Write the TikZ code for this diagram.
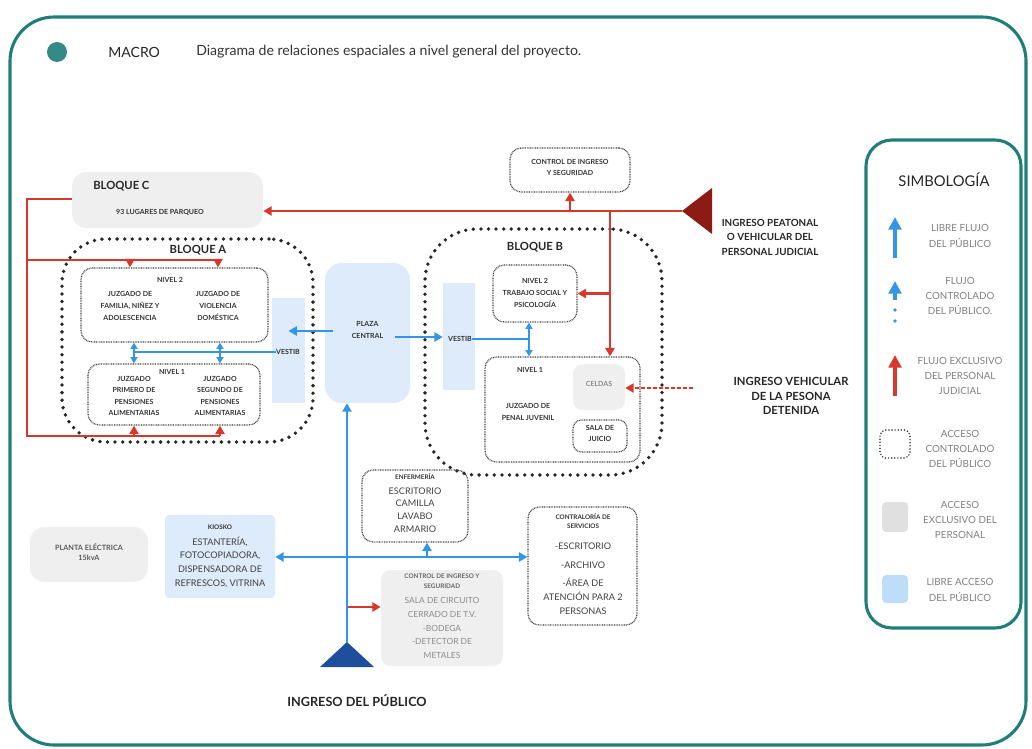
\documentclass[tikz,border=0pt]{standalone}
\usepackage{fontspec}
\setmainfont{Lato}
\usepackage{tikz}
\usetikzlibrary{arrows.meta,positioning,fit,calc}

\definecolor{marco}{HTML}{1F7D7A}
\definecolor{rojojud}{HTML}{D6382C}
\definecolor{rojoosc}{HTML}{8C1B16}
\definecolor{azulpub}{HTML}{3494E6}
\definecolor{azulosc}{HTML}{1D4F9C}
\definecolor{celeste}{HTML}{DDEBFA}
\definecolor{celestefuerte}{HTML}{BEDDF8}
\definecolor{grisper}{HTML}{EFEFEF}

\begin{document}
\begin{tikzpicture}[x=0.025cm, y=-0.025cm,
  marcobox/.style={draw=marco, line width=2.2pt, rounded corners=1.1cm, inner sep=0pt},
  bloque/.style={draw=black!85, line width=2.7pt, line cap=round, dash pattern=on 0pt off 5.4pt, rounded corners=1.1cm, inner sep=0pt},
  nivel/.style={draw=black!75, line width=0.9pt, dash pattern=on 0.6pt off 0.6pt, rounded corners=8pt, inner sep=0pt},
  personal/.style={fill=grisper, rounded corners=7pt, inner sep=0pt},
  publico/.style={fill=celeste, inner sep=0pt},
  lbl/.style={font=\bfseries\fontsize{8}{10}\selectfont, text=black!85, align=center, inner sep=0pt},
  ingreso/.style={font=\bfseries\fontsize{7}{10.3}\selectfont, text=black!85, align=center, inner sep=0pt},
  chico/.style={font=\bfseries\fontsize{5}{8.5}\selectfont, text=black!80, align=center, inner sep=0pt},
  item/.style={font=\fontsize{6.5}{9.5}\selectfont, text=black!75, align=center, inner sep=0pt},
  leyenda/.style={font=\fontsize{7}{11}\selectfont, text=black!50, align=center, inner sep=0pt},
  flujojud/.style={draw=rojojud, line width=1.7pt, line join=miter},
  flechajud/.style={flujojud, -{Triangle[length=6pt,width=6.5pt]}},
  flujopub/.style={draw=azulpub, line width=1.7pt, line join=miter},
  flechapub/.style={flujopub, -{Triangle[length=6pt,width=6.5pt]}},
  doblepub/.style={flujopub, {Triangle[length=4.5pt,width=5pt]}-{Triangle[length=4.5pt,width=5pt]}}
]
\useasboundingbox (0,0) rectangle (1032,749);

\node[marcobox, fit={(10,17) (1026,745)}] (marco) {};
\node[circle, fill=marco!90, minimum size=0.5cm, inner sep=0pt] (punto) at (57,52) {};
\node[anchor=west, inner sep=0pt, font=\fontsize{10}{12}\selectfont, text=black!85] (macro) at (108,52) {MACRO};
\node[anchor=west, inner sep=0pt, font=\fontsize{10}{12}\selectfont, text=black!80] (desc) at (196,52) {Diagrama de relaciones espaciales a nivel general del proyecto.};

% bloque C
\node[personal, rounded corners=10pt, fit={(72,172) (263,228)}] (bloqueC) {};
\node[lbl, anchor=west] (tBloqueC) at (93,186) {BLOQUE C};
\node[chico] (parqueo) at (160,212) {93 LUGARES DE PARQUEO};

% bloque A
\node[bloque, fit={(62,239) (313,442)}] (bloqueA) {};
\node[lbl] (tBloqueA) at (198,250) {BLOQUE A};
\node[nivel, fit={(81,268) (268,342)}] (nivDosA) {};
\node[chico] (tNivDosA) at (170,280) {NIVEL 2};
\node[chico] (juzFam) at (130,306) {JUZGADO DE\\FAMILIA, NIÑEZ Y\\ADOLESCENCIA};
\node[chico] (juzVio) at (218,306) {JUZGADO DE\\VIOLENCIA\\DOMÉSTICA};
\node[nivel, fit={(88,364) (260,425)}] (nivUnoA) {};
\node[chico] (tNivUnoA) at (172,372) {NIVEL 1};
\node[chico, font=\bfseries\fontsize{5}{8}\selectfont] (juzPri) at (134,396) {JUZGADO\\PRIMERO DE\\PENSIONES\\ALIMENTARIAS};
\node[chico, font=\bfseries\fontsize{5}{8}\selectfont] (juzSeg) at (220,396) {JUZGADO\\SEGUNDO DE\\PENSIONES\\ALIMENTARIAS};
\node[publico, fit={(272,298) (305,403)}] (vestibA) {};
\node[chico] (tVestibA) at (288,352) {VESTIB};

% plaza
\node[publico, rounded corners=12pt, chico, fit={(325,263) (410,403)}] (plaza) {PLAZA\\CENTRAL};

% bloque B
\node[bloque, rounded corners=1.3cm, fit={(425,229) (662,475)}] (bloqueB) {};
\node[lbl] (tBloqueB) at (535,247) {BLOQUE B};
\node[publico, fit={(443,283) (475,390)}] (vestibB) {};
\node[chico] (tVestibB) at (460,339) {VESTIB};
\node[nivel, fit={(493,265) (577,322)}] (nivDosB) {};
\node[chico, font=\bfseries\fontsize{5}{8.3}\selectfont] (trabajo) at (535,293) {NIVEL 2\\TRABAJO SOCIAL Y\\PSICOLOGÍA};
\node[nivel, fit={(485,357) (640,462)}] (nivUnoB) {};
\node[chico] (tNivUnoB) at (530,370) {NIVEL 1};
\node[chico] (juzPen) at (528,412) {JUZGADO DE\\PENAL JUVENIL};
\node[personal, fit={(573,364) (625,410)}] (celdas) {};
\node[chico, text=black!45] (tCeldas) at (599,384) {CELDAS};
\node[nivel, rounded corners=6pt, chico, fit={(573,420) (627,452)}] (sala) {SALA DE\\JUICIO};

% control superior
\node[nivel, chico, font=\bfseries\fontsize{5}{7.5}\selectfont, fit={(510,148) (630,192)}] (ctrlTop) {CONTROL DE INGRESO\\Y SEGURIDAD};
\coordinate (pj) at (682,211);
\fill[rojoosc] (pj) -- (712,188) -- (712,234) -- cycle;
\node[ingreso] (tPeatonal) at (770,237) {INGRESO PEATONAL\\O VEHICULAR DEL\\PERSONAL JUDICIAL};
\node[ingreso, font=\bfseries\fontsize{8}{10.3}\selectfont] (tDetenida) at (791,396) {INGRESO VEHICULAR\\DE LA PESONA\\DETENIDA};

% zona inferior
\node[personal, rounded corners=10pt, fit={(30,527) (148,582)}] (planta) {};
\node[chico, text=black!65, font=\bfseries\fontsize{5.2}{7.5}\selectfont] (tPlanta) at (89,552) {PLANTA ELÉCTRICA\\15kvA};
\node[publico, rounded corners=3pt, fit={(165,515) (275,598)}] (kiosko) {};
\node[chico, font=\bfseries\fontsize{4.5}{7}\selectfont] (tKiosko) at (220,527) {KIOSKO};
\node[item, font=\fontsize{6.5}{9.7}\selectfont] (kioskoItems) at (220,562) {ESTANTERÍA,\\FOTOCOPIADORA,\\DISPENSADORA DE\\REFRESCOS, VITRINA};
\node[nivel, fit={(362,470) (468,542)}] (enf) {};
\node[chico, font=\bfseries\fontsize{4.5}{7}\selectfont] (tEnf) at (415,477) {ENFERMERÍA};
\node[item, font=\fontsize{6.5}{9}\selectfont] (enfItems) at (415,510) {ESCRITORIO\\CAMILLA\\LAVABO\\ARMARIO};
\node[personal, fit={(381,570) (503,666)}] (ctrlBot) {};
\node[chico, text=black!60, font=\bfseries\fontsize{4.5}{7}\selectfont] (tCtrlBot) at (442,581) {CONTROL DE INGRESO Y\\SEGURIDAD};
\node[item, text=black!45, font=\fontsize{6}{9.8}\selectfont] (ctrlItems) at (442,628) {SALA DE CIRCUITO\\CERRADO DE T.V.\\-BODEGA\\-DETECTOR DE\\METALES};
\node[nivel, fit={(528,507) (637,625)}] (contra) {};
\node[chico, font=\bfseries\fontsize{4.5}{7}\selectfont] (tContra) at (583,521) {CONTRALORÍA DE\\SERVICIOS};
\node[item, font=\fontsize{6.5}{10}\selectfont] (contraItems) at (583,579) {-ESCRITORIO\\[3pt]-ARCHIVO\\[3pt]-ÁREA DE\\ATENCIÓN PARA 2\\PERSONAS};
\coordinate (pub) at (347,642);
\fill[azulosc] (pub) -- (374,667) -- (320,667) -- cycle;
\node[ingreso, font=\bfseries\fontsize{9}{11}\selectfont] (tPublico) at (357,701) {INGRESO DEL PÚBLICO};

% flujo judicial
\coordinate (rojoC) at (27,199);
\coordinate (rojoArr) at (27,260);
\coordinate (rojoAba) at (27,436);
\draw[flujojud] (bloqueC.west |- rojoC) -- (rojoC) -- (rojoAba) -- (juzSeg |- rojoAba);
\draw[flujojud] (rojoArr) -- (juzVio |- rojoArr);
\draw[flechajud] (juzFam |- rojoArr) -- (juzFam |- nivDosA.north);
\draw[flechajud] (juzVio |- rojoArr) -- (juzVio |- nivDosA.north);
\draw[flechajud] (juzPri |- rojoAba) -- (juzPri |- nivUnoA.south);
\draw[flechajud] (juzSeg |- rojoAba) -- (juzSeg |- nivUnoA.south);
\draw[flechajud] (pj) -- (pj -| bloqueC.east);
\draw[flechajud] (ctrlTop.south |- pj) -- (ctrlTop.south);
\coordinate (rojoB) at (610,211);
\draw[flechajud] (rojoB) -- (rojoB |- nivUnoB.north);
\draw[flechajud] (rojoB |- nivDosB.east) -- (nivDosB.east);
\coordinate (detenida) at (693,388);
\draw[flechajud, line width=1.4pt, dash pattern=on 2.5pt off 1.8pt] (detenida) -- (celdas.east |- detenida);
\coordinate (rojoCtrl) at (347,607);
\draw[flechajud] (rojoCtrl) -- (ctrlBot.west |- rojoCtrl);

% flujo publico
\draw[flujopub] (tVestibA.west) -- (juzPri |- tVestibA.west);
\draw[doblepub] (juzPri |- nivDosA.south) -- (juzPri |- nivUnoA.north);
\draw[doblepub] (juzSeg |- nivDosA.south) -- (juzSeg |- nivUnoA.north);
\coordinate (plazaIzq) at (333,331);
\coordinate (plazaDer) at (395,337);
\draw[flechapub] (plazaIzq) -- (vestibA.center |- plazaIzq);
\draw[flechapub] (plazaDer) -- (vestibB.west |- plazaDer);
\coordinate (azulB) at (529,339);
\draw[flujopub] (tVestibB.east) -- (azulB);
\draw[doblepub] (azulB |- nivDosB.south) -- (azulB |- nivUnoB.north);
\draw[flechapub] (pub) -- (pub |- plaza.south);
\coordinate (azulH) at (347,557);
\draw[flechapub] (azulH) -- (kiosko.east |- azulH);
\draw[flechapub] (azulH) -- (contra.west |- azulH);
\coordinate (azulE) at (427,557);
\draw[flechapub] (azulE) -- (azulE |- enf.south);

% simbologia
\node[marcobox, rounded corners=0.65cm, fit={(866,140) (1021,628)}] (simb) {};
\node[inner sep=0pt, font=\fontsize{10.5}{12}\selectfont, text=black!85] (tSimb) at (944,180) {SIMBOLOGÍA};
\draw[azulpub, line width=2.3pt, -{Triangle[length=9pt,width=9pt]}] (895,258) -- (895,217);
\node[leyenda] (leyUno) at (960,236) {LIBRE FLUJO\\DEL PÚBLICO};
\draw[azulpub, line width=2.3pt, -{Triangle[length=9pt,width=9pt]}] (895,300) -- (895,281);
\fill[azulpub] (895,310) circle (1.3pt) (895,321) circle (1.3pt);
\node[leyenda] (leyDos) at (960,296) {FLUJO\\CONTROLADO\\DEL PÚBLICO.};
\draw[rojojud, line width=2.3pt, -{Triangle[length=9pt,width=9pt]}] (895,396) -- (895,355);
\node[leyenda] (leyTres) at (960,376) {FLUJO EXCLUSIVO\\DEL PERSONAL\\JUDICIAL};
\node[draw=black!80, line width=1.2pt, line cap=round, dash pattern=on 0pt off 2.2pt, rounded corners=4pt, inner sep=0pt, fit={(880,430) (910,458)}] (leyCuatro) {};
\node[leyenda] (tLeyCuatro) at (960,449) {ACCESO\\CONTROLADO\\DEL PÚBLICO};
\node[fill=black!12, rounded corners=3pt, inner sep=0pt, fit={(882,502) (908,532)}] (leyCinco) {};
\node[leyenda] (tLeyCinco) at (960,520) {ACCESO\\EXCLUSIVO DEL\\PERSONAL};
\node[fill=celestefuerte, rounded corners=3pt, inner sep=0pt, fit={(882,575) (908,603)}] (leySeis) {};
\node[leyenda] (tLeySeis) at (960,590) {LIBRE ACCESO\\DEL PÚBLICO};
\end{tikzpicture}
\end{document}
